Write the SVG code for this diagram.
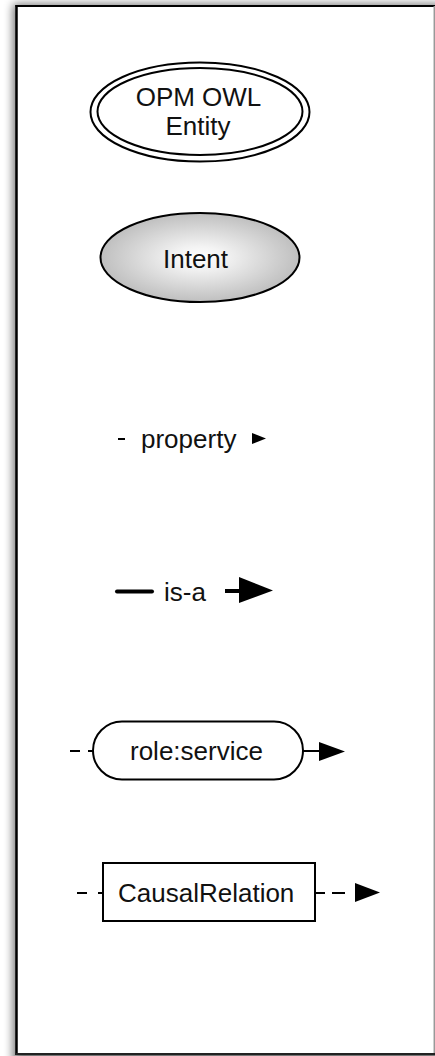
<svg xmlns="http://www.w3.org/2000/svg" width="435" height="1056" viewBox="0 0 435 1056">
  <defs>
    <filter id="frameShadow" x="-0.1" y="-0.1" width="1.2" height="1.2">
      <feGaussianBlur stdDeviation="5"/>
    </filter>
    <radialGradient id="intentFill" cx="0.5" cy="0.5" r="0.5">
      <stop offset="0" stop-color="#ffffff"/>
      <stop offset="0.25" stop-color="#f3f3f3"/>
      <stop offset="1" stop-color="#bfbfbf"/>
    </radialGradient>
  </defs>
  <style>
    .label { font-family: "Liberation Sans", Arial, Helvetica, sans-serif; font-size: 26px; fill: #111; }
    .outline { fill: #fff; stroke: #000; stroke-width: 2; }
    .wire { stroke: #000; stroke-width: 2; fill: none; }
    .head { fill: #000; stroke: none; }
  </style>

  <!-- page background and frame with soft shadow -->
  <rect x="0" y="0" width="435" height="1056" fill="#fff"/>
  <rect x="13" y="4" width="430" height="1060" fill="#000" opacity="0.55" filter="url(#frameShadow)"/>
  <rect x="16.5" y="6" width="420" height="1047" fill="#fff"/>
  <line x1="16.5" y1="5" x2="16.5" y2="1055" stroke="#000" stroke-width="2.5"/>
  <line x1="15.5" y1="6" x2="435" y2="6" stroke="#000" stroke-width="2"/>
  <line x1="434.3" y1="6" x2="434.3" y2="1054" stroke="#999" stroke-width="1.5"/>
  <line x1="15.5" y1="1054" x2="435" y2="1054" stroke="#222" stroke-width="2"/>

  <!-- legend nodes -->
  <g id="node-opm-owl-entity">
    <ellipse class="outline" cx="200" cy="112" rx="109.5" ry="49.5"/>
    <ellipse class="outline" cx="200" cy="111.5" rx="102.5" ry="43.5"/>
    <text class="label" x="198.5" y="106" text-anchor="middle">OPM OWL</text>
    <text class="label" x="198" y="135" text-anchor="middle">Entity</text>
  </g>

  <g id="node-intent">
    <ellipse cx="200" cy="257.5" rx="99.5" ry="44.5" fill="url(#intentFill)" stroke="#000" stroke-width="2"/>
    <text class="label" x="195.5" y="268" text-anchor="middle">Intent</text>
  </g>

  <g id="node-property">
    <text class="label" x="141" y="448">property</text>
  </g>

  <g id="node-is-a">
    <text class="label" x="164" y="601">is-a</text>
  </g>

  <g id="node-role-service">
    <rect class="outline" x="93" y="721.5" width="210" height="58" rx="29" ry="29"/>
    <text class="label" x="130" y="760">role:service</text>
  </g>

  <g id="node-causal-relation">
    <rect class="outline" x="103" y="863" width="212" height="58"/>
    <text class="label" x="118" y="902">CausalRelation</text>
  </g>

  <!-- connector samples -->
  <g id="connectors">
    <!-- property -->
    <line class="wire" x1="118" y1="439" x2="125" y2="439"/>
    <polygon class="head" points="252,433 266,438.5 252,444"/>

    <!-- is-a -->
    <line x1="117" y1="591.5" x2="152" y2="591.5" stroke="#000" stroke-width="4" stroke-linecap="round"/>
    <line x1="225" y1="591" x2="242" y2="591" stroke="#000" stroke-width="4"/>
    <polygon class="head" points="239,577 273,590.5 239,603"/>

    <!-- role -->
    <line class="wire" x1="70" y1="751" x2="80" y2="751"/>
    <line class="wire" x1="88" y1="751" x2="94" y2="751"/>
    <line class="wire" x1="302" y1="751" x2="320" y2="751"/>
    <polygon class="head" points="319,742 345,751.5 319,761"/>

    <!-- causal relation -->
    <line class="wire" x1="77" y1="893" x2="87" y2="893"/>
    <line class="wire" x1="98" y1="893" x2="103" y2="893"/>
    <line class="wire" x1="315" y1="893" x2="325" y2="893"/>
    <line class="wire" x1="332" y1="893" x2="345" y2="893"/>
    <polygon class="head" points="355,883 380,892.5 355,902"/>
  </g>
</svg>
